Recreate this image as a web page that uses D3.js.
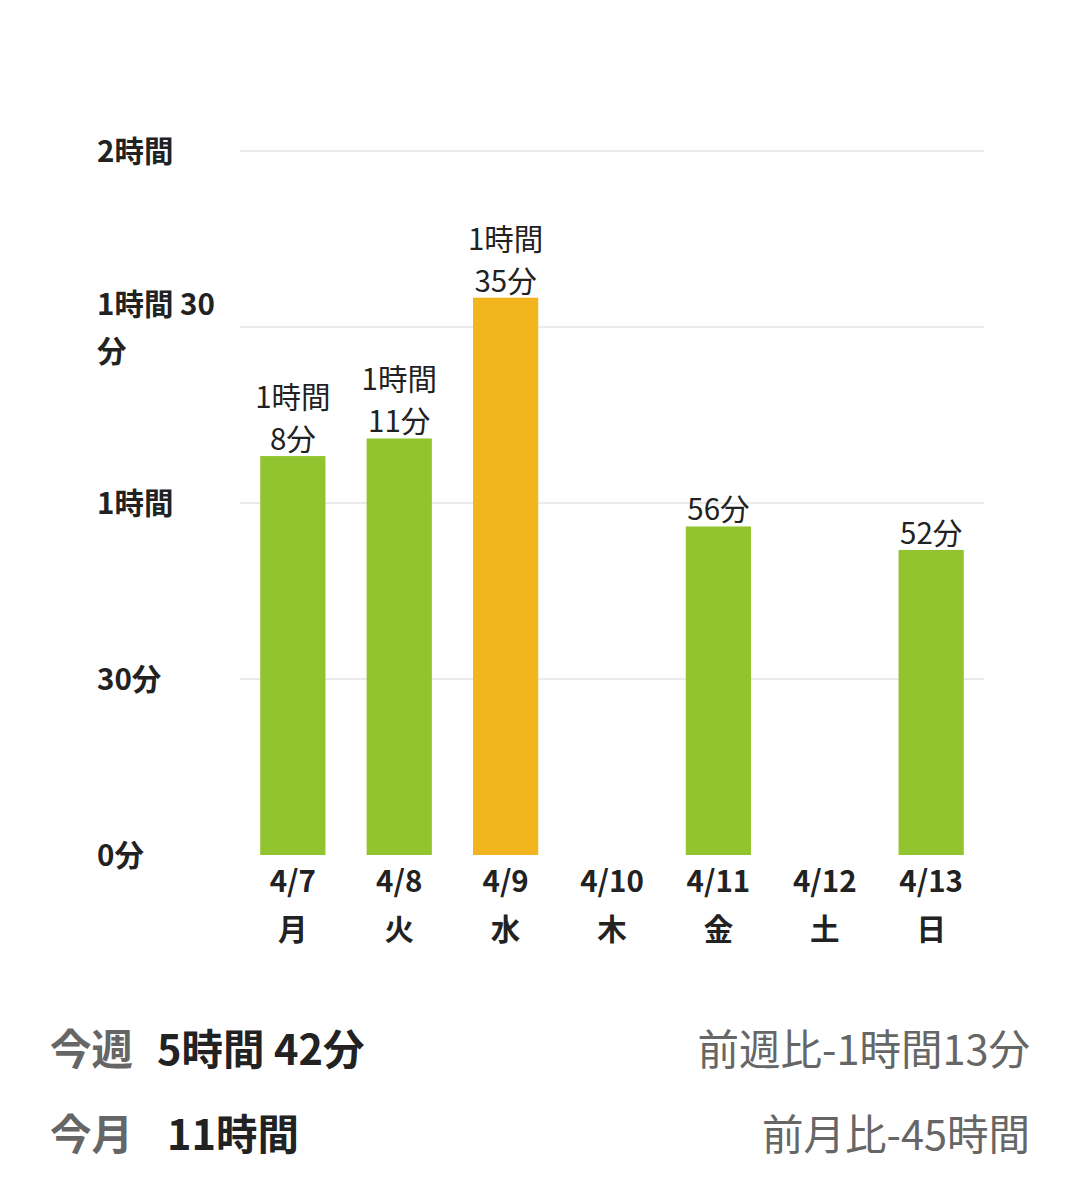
<!DOCTYPE html>
<html>
<head>
<meta charset="utf-8">
<script src="https://cdn.jsdelivr.net/npm/d3@7"></script>
<style>
  html, body { margin: 0; padding: 0; background: #fff; }
  svg { display: block; font-family: "Noto Sans CJK JP", "Noto Sans", sans-serif; }
</style>
</head>
<body>
<svg></svg>
<script>
const dates = ['4/7', '4/8', '4/9', '4/10', '4/11', '4/12', '4/13'];
const weekdays = ['月', '火', '水', '木', '金', '土', '日'];
const minutes = [68, 71, 95, 0, 56, 0, 52];
const highlight = [false, false, true, false, false, false, false];
const yTicks = [0, 30, 60, 90, 120];
const yTickLabels = [['0分'], ['30分'], ['1時間'], ['1時間 30', '分'], ['2時間']];
const summary = [
  { label: '今週', value: '5時間 42分', compare: '前週比-1時間13分' },
  { label: '今月', value: '11時間', compare: '前月比-45時間' }
];

const width = 1080, height = 1194;
const svg = d3.select('svg').attr('width', width).attr('height', height);

const x = d3.scaleBand()
  .domain(dates)
  .range([240, 984])
  .paddingInner(0.387)
  .paddingOuter(0.19);

const y = d3.scaleLinear().domain([0, 120]).range([855, 151]);

// gridlines (none at zero)
svg.append('g')
  .selectAll('line')
  .data(yTicks.filter(d => d > 0))
  .enter().append('line')
  .attr('x1', 240).attr('x2', 984)
  .attr('y1', d => y(d)).attr('y2', d => y(d))
  .attr('stroke', '#ebebeb')
  .attr('stroke-width', 2);

// y labels
svg.append('g')
  .selectAll('text')
  .data(yTicks)
  .enter().append('text')
  .attr('x', 97)
  .attr('y', d => y(d))
  .attr('font-size', 29.5)
  .attr('font-weight', 'bold')
  .attr('fill', '#222')
  .each(function(d, i) {
    const lines = yTickLabels[i];
    const t = d3.select(this);
    const off = -(lines.length - 1) * 47 / 2 + 11;
    lines.forEach((s, j) => {
      t.append('tspan').attr('x', 97).attr('dy', j === 0 ? off : 47).text(s);
    });
  });

// bars
svg.append('g')
  .selectAll('rect')
  .data(minutes)
  .enter().append('rect')
  .attr('x', (d, i) => x(dates[i]))
  .attr('y', d => y(d))
  .attr('width', x.bandwidth())
  .attr('height', d => y(0) - y(d))
  .attr('fill', (d, i) => highlight[i] ? '#f2b51e' : '#92c42f');

function fmt(m) {
  const h = Math.floor(m / 60), r = m % 60;
  if (h === 0) return [r + '分'];
  return [h + '時間', r + '分'];
}

// value labels
svg.append('g')
  .selectAll('text')
  .data(minutes.map((m, i) => ({ m, i })).filter(d => d.m > 0))
  .enter().append('text')
  .attr('text-anchor', 'middle')
  .attr('font-size', 29.5)
  .attr('fill', '#222')
  .each(function(d) {
    const lines = fmt(d.m);
    const cx = x(dates[d.i]) + x.bandwidth() / 2;
    const base = y(d.m) - 6;
    const t = d3.select(this);
    lines.forEach((s, j) => {
      t.append('tspan')
        .attr('x', cx)
        .attr('y', base - (lines.length - 1 - j) * 42)
        .text(s);
    });
  });

// x labels
const xl = svg.append('g')
  .selectAll('text')
  .data(dates)
  .enter().append('text')
  .attr('text-anchor', 'middle')
  .attr('font-size', 29.5)
  .attr('font-weight', 'bold')
  .attr('fill', '#222');
xl.append('tspan')
  .attr('x', d => x(d) + x.bandwidth() / 2)
  .attr('y', 892)
  .text(d => d);
xl.append('tspan')
  .attr('x', d => x(d) + x.bandwidth() / 2)
  .attr('y', 940)
  .text((d, i) => weekdays[i]);

// summary
const rows = svg.append('g')
  .selectAll('g')
  .data(summary)
  .enter().append('g')
  .attr('transform', (d, i) => `translate(0,${1065 + i * 85})`);
rows.append('text')
  .attr('x', 50)
  .attr('font-size', 41.5)
  .attr('font-weight', 'bold')
  .attr('fill', '#666')
  .text(d => d.label);
rows.append('text')
  .attr('x', (d, i) => i === 0 ? 157 : 167)
  .attr('font-size', 41.5)
  .attr('font-weight', 'bold')
  .attr('fill', '#222')
  .text(d => d.value);
rows.append('text')
  .attr('x', 1030)
  .attr('text-anchor', 'end')
  .attr('font-size', 41.5)
  .attr('fill', '#666')
  .text(d => d.compare);
</script>
</body>
</html>
